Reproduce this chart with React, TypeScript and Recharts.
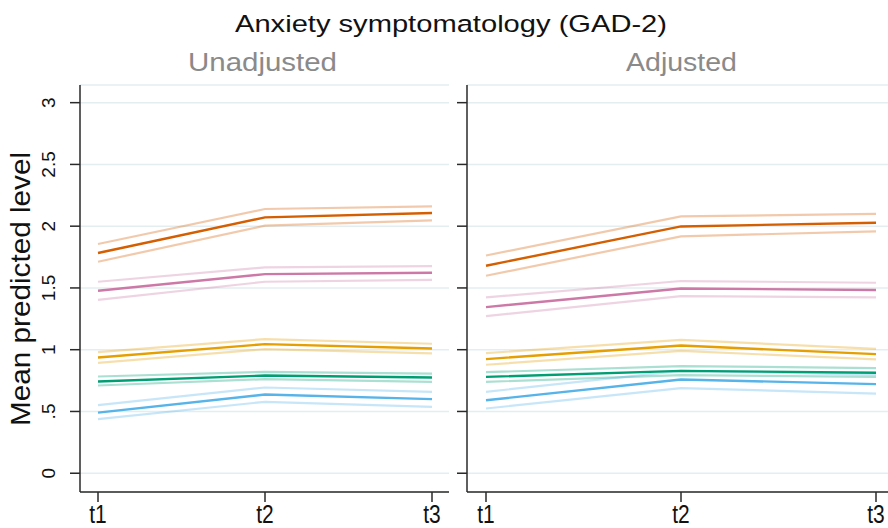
import React from 'react';
import { LineChart, Line, XAxis, YAxis, CartesianGrid } from 'recharts';

const FONT = '"Liberation Sans", Arial, sans-serif';

const categories = ['t1', 't2', 't3'];
const yTicks = [0, 0.5, 1, 1.5, 2, 2.5, 3];
const yTickLabels = ['0', '.5', '1', '1.5', '2', '2.5', '3'];

// Unadjusted panel: mean, lower, upper
const unadjOrange = [1.783, 2.071, 2.107];
const unadjOrangeLo = [1.712, 2.004, 2.047];
const unadjOrangeHi = [1.856, 2.139, 2.161];
const unadjPink = [1.477, 1.612, 1.623];
const unadjPinkLo = [1.404, 1.55, 1.566];
const unadjPinkHi = [1.55, 1.666, 1.677];
const unadjAmber = [0.937, 1.045, 1.01];
const unadjAmberLo = [0.894, 1.005, 0.97];
const unadjAmberHi = [0.98, 1.086, 1.048];
const unadjGreen = [0.743, 0.791, 0.775];
const unadjGreenLo = [0.71, 0.762, 0.74];
const unadjGreenHi = [0.783, 0.821, 0.807];
const unadjBlue = [0.491, 0.637, 0.6];
const unadjBlueLo = [0.438, 0.578, 0.537];
const unadjBlueHi = [0.551, 0.694, 0.659];

// Adjusted panel: mean, lower, upper
const adjOrange = [1.68, 1.998, 2.028];
const adjOrangeLo = [1.599, 1.918, 1.958];
const adjOrangeHi = [1.763, 2.08, 2.099];
const adjPink = [1.345, 1.496, 1.483];
const adjPinkLo = [1.272, 1.434, 1.423];
const adjPinkHi = [1.423, 1.556, 1.542];
const adjAmber = [0.924, 1.034, 0.964];
const adjAmberLo = [0.878, 0.991, 0.921];
const adjAmberHi = [0.972, 1.08, 1.007];
const adjGreen = [0.78, 0.829, 0.813];
const adjGreenLo = [0.74, 0.794, 0.78];
const adjGreenHi = [0.818, 0.867, 0.851];
const adjBlue = [0.591, 0.759, 0.721];
const adjBlueLo = [0.524, 0.689, 0.645];
const adjBlueHi = [0.659, 0.829, 0.797];

const groups = [
  { key: 'orange', color: '#D55E00' },
  { key: 'pink', color: '#CC79A7' },
  { key: 'amber', color: '#E69F00' },
  { key: 'green', color: '#009E73' },
  { key: 'blue', color: '#56B4E9' },
];

const build = (sets: Record<string, number[][]>) =>
  categories.map((t, i) => {
    const row: Record<string, any> = { t };
    Object.keys(sets).forEach((k) => {
      row[k] = sets[k][0][i];
      row[k + 'Lo'] = sets[k][1][i];
      row[k + 'Hi'] = sets[k][2][i];
    });
    return row;
  });

const unadjData = build({
  orange: [unadjOrange, unadjOrangeLo, unadjOrangeHi],
  pink: [unadjPink, unadjPinkLo, unadjPinkHi],
  amber: [unadjAmber, unadjAmberLo, unadjAmberHi],
  green: [unadjGreen, unadjGreenLo, unadjGreenHi],
  blue: [unadjBlue, unadjBlueLo, unadjBlueHi],
});

const adjData = build({
  orange: [adjOrange, adjOrangeLo, adjOrangeHi],
  pink: [adjPink, adjPinkLo, adjPinkHi],
  amber: [adjAmber, adjAmberLo, adjAmberHi],
  green: [adjGreen, adjGreenLo, adjGreenHi],
  blue: [adjBlue, adjBlueLo, adjBlueHi],
});

const AXIS = '#2a2a2a';
const DOMAIN: [number, number] = [-0.152, 3.143];

const YTickLabel = (props: any) => {
  const { x, y, payload } = props;
  const idx = yTicks.indexOf(payload.value);
  const cx = x - 19.5;
  return (
    <text
      x={cx}
      y={y}
      transform={`rotate(-90, ${cx}, ${y})`}
      textAnchor="middle"
      dominantBaseline="central"
      fontSize={19}
      fontFamily={FONT}
      fill="#111"
    >
      {idx >= 0 ? yTickLabels[idx] : payload.value}
    </text>
  );
};

const XTickLabel = (props: any) => {
  const { x, y, payload } = props;
  return (
    <text
      x={x}
      y={y + 19}
      textAnchor="middle"
      fontSize={26}
      textLength={17.5}
      lengthAdjust="spacingAndGlyphs"
      fontFamily={FONT}
      fill="#111"
    >
      {payload.value}
    </text>
  );
};

const Empty = () => <g />;

const renderLines = () => {
  const out: any[] = [];
  groups.forEach((g) => {
    ['Lo', 'Hi'].forEach((s) => {
      out.push(
        <Line
          key={g.key + s}
          dataKey={g.key + s}
          stroke={g.color}
          strokeOpacity={0.33}
          strokeWidth={2.2}
          dot={false}
          activeDot={false}
          isAnimationActive={false}
        />
      );
    });
  });
  groups.forEach((g) => {
    out.push(
      <Line
        key={g.key}
        dataKey={g.key}
        stroke={g.color}
        strokeWidth={2.4}
        dot={false}
        activeDot={false}
        isAnimationActive={false}
      />
    );
  });
  return out;
};

const Panel = ({ data, width, yWidth, right, pad, showLabels }: any) => (
  <LineChart
    width={width}
    height={528}
    data={data}
    margin={{ top: 85, right, bottom: 0, left: 0 }}
  >
    <CartesianGrid horizontal vertical={false} stroke="#e4eef1" strokeWidth={1.5} />
    <XAxis
      dataKey="t"
      height={36}
      padding={pad}
      tickSize={10}
      tickLine={{ stroke: AXIS, strokeWidth: 1.5 }}
      axisLine={{ stroke: AXIS, strokeWidth: 1.5 }}
      tick={<XTickLabel />}
      interval={0}
    />
    <YAxis
      type="number"
      domain={DOMAIN}
      ticks={yTicks}
      width={yWidth}
      tickSize={10}
      tickLine={{ stroke: AXIS, strokeWidth: 1.5 }}
      axisLine={{ stroke: AXIS, strokeWidth: 1.5 }}
      tick={showLabels ? <YTickLabel /> : <Empty />}
      allowDataOverflow
    />
    {renderLines()}
  </LineChart>
);

export default function App() {
  return (
    <div
      style={{
        position: 'absolute',
        left: 0,
        top: 0,
        width: 888,
        height: 528,
        background: '#ffffff',
        overflow: 'hidden',
        fontFamily: FONT,
      }}
    >
      <div style={{ position: 'absolute', left: 0, top: 0 }}>
        <Panel data={unadjData} width={455} yWidth={80} right={6} pad={{ left: 18, right: 17 }} showLabels />
      </div>
      <div style={{ position: 'absolute', left: 455, top: 0 }}>
        <Panel data={adjData} width={433} yWidth={12} right={0} pad={{ left: 19, right: 12 }} showLabels={false} />
      </div>
      <svg
        width={888}
        height={528}
        style={{ position: 'absolute', left: 0, top: 0, pointerEvents: 'none' }}
      >
        <text
          x={451}
          y={32}
          textAnchor="middle"
          fontSize={24.5}
          textLength={432}
          lengthAdjust="spacingAndGlyphs"
          fontFamily={FONT}
          fill="#111"
        >
          Anxiety symptomatology (GAD-2)
        </text>
        <text
          x={262.5}
          y={70.5}
          textAnchor="middle"
          fontSize={25.5}
          textLength={149}
          lengthAdjust="spacingAndGlyphs"
          fontFamily={FONT}
          fill="#8a8a8a"
        >
          Unadjusted
        </text>
        <text
          x={681.5}
          y={70.5}
          textAnchor="middle"
          fontSize={25.5}
          textLength={111}
          lengthAdjust="spacingAndGlyphs"
          fontFamily={FONT}
          fill="#8a8a8a"
        >
          Adjusted
        </text>
        <text
          x={20}
          y={289}
          transform="rotate(-90, 20, 289)"
          textAnchor="middle"
          dominantBaseline="central"
          fontSize={28}
          textLength={274}
          lengthAdjust="spacingAndGlyphs"
          fontFamily={FONT}
          fill="#111"
        >
          Mean predicted level
        </text>
      </svg>
    </div>
  );
}
